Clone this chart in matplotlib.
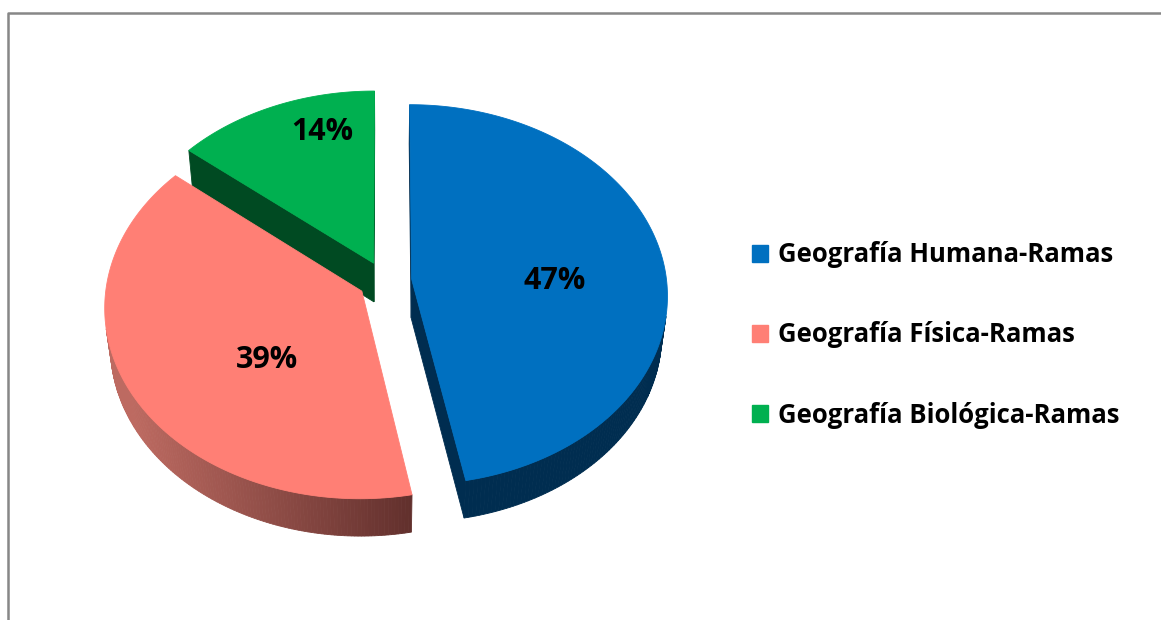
import numpy as np
import matplotlib.pyplot as plt
from matplotlib.patches import Polygon, Patch
from matplotlib.colors import to_rgb

# data
labels = ['Geografía Humana-Ramas', 'Geografía Física-Ramas', 'Geografía Biológica-Ramas']
values = [47, 39, 14]
top_colors = ['#0070C0', '#FF7F75', '#00B050']
side_colors = [('#002D50', '#002D50'), ('#BD6A61', '#5F2E2B'), ('#004A22', '#004A22')]

# 3d look (pixel units)
cx, cy = 385, 281
R = 255
sin_a, cos_a = 0.741, 0.672
dist = 8.25
h = 0.23
explode = 0.105
label_r = [0.56, 0.50, 0.78]
label_shift = [6.5, -14, 9]

cam = dist * np.array([0, sin_a, cos_a])


def proj(X, Y, Z):
    X, Y, Z = np.asarray(X, float), np.asarray(Y, float), np.asarray(Z, float)
    up = Y * cos_a - Z * sin_a
    toward = Y * sin_a + Z * cos_a
    s = dist / (dist - toward)
    return cx + R * X * s, cy - R * up * s


def visible(normal, p):
    return np.dot(normal, cam - p) > 0


fig = plt.figure(figsize=(11.61, 6.2), dpi=100)
ax = fig.add_axes([0, 0, 1, 1])
ax.set_xlim(0, 1161)
ax.set_ylim(620, 0)
ax.axis('off')

# frame
ax.plot([8, 8, 1161], [620, 13, 13], color='#878787', lw=1.8, solid_capstyle='butt')

total = float(sum(values))
bounds = np.concatenate([[0], np.cumsum(values)]) / total * 360

slices = []
for i in range(len(values)):
    t1, t2 = bounds[i], bounds[i + 1]
    mid = np.radians((t1 + t2) / 2)
    ox, oz = explode * np.sin(mid), -explode * np.cos(mid)
    slices.append((oz * cos_a, i, t1, t2, ox, oz))

for depth, i, t1, t2, ox, oz in sorted(slices):
    th = np.radians(np.linspace(t1, t2, 200))
    rx, rz = ox + np.sin(th), oz - np.cos(th)
    faces = []
    # outer wall, split in strips for the shading
    sx_top, sy_top = proj(rx, 0, rz)
    sx_bot, sy_bot = proj(rx, -h, rz)
    c_light, c_dark = np.array(to_rgb(side_colors[i][0])), np.array(to_rgb(side_colors[i][1]))
    for j in range(len(th) - 1):
        tm = (th[j] + th[j + 1]) / 2
        n = np.array([np.sin(tm), 0, -np.cos(tm)])
        p = np.array([ox + np.sin(tm), -h / 2, oz - np.cos(tm)])
        if not visible(n, p):
            continue
        xm = (sx_top[j] + sx_top[j + 1]) / 2
        f = np.clip((xm - (cx - R)) / (420 - (cx - R)), 0, 1)
        col = c_light * (1 - f) + c_dark * f
        quad = [(sx_top[j], sy_top[j]), (sx_top[j + 1], sy_top[j + 1]),
                (sx_bot[j + 1], sy_bot[j + 1]), (sx_bot[j], sy_bot[j])]
        faces.append(Polygon(quad, closed=True, fc=col, ec=col, lw=0.6))
    # radial faces
    for t, sign in ((t1, -1), (t2, 1)):
        tr = np.radians(t)
        n = sign * np.array([np.cos(tr), 0, np.sin(tr)])
        ex, ez = ox + np.sin(tr), oz - np.cos(tr)
        p = np.array([(ox + ex) / 2, -h / 2, (oz + ez) / 2])
        if not visible(n, p):
            continue
        xs, ys = proj([ox, ex, ex, ox], [0, 0, -h, -h], [oz, ez, ez, oz])
        faces.append(Polygon(np.column_stack([xs, ys]), closed=True,
                             fc=side_colors[i][1], ec=side_colors[i][1], lw=0.6))
    for f in faces:
        ax.add_patch(f)
    # top face
    tx, ty = proj(np.concatenate([[ox], rx]), 0, np.concatenate([[oz], rz]))
    ax.add_patch(Polygon(np.column_stack([tx, ty]), closed=True,
                         fc=top_colors[i], ec=top_colors[i], lw=0.6))
    # percent label
    lt = np.radians((t1 + t2) / 2 + label_shift[i])
    lx, ly = proj(ox + label_r[i] * np.sin(lt), 0, oz - label_r[i] * np.cos(lt))
    ax.text(lx, ly, f'{values[i] / total:.0%}', ha='center', va='center',
            fontsize=22, fontweight='bold', family='Open Sans', color='black')

handles = [Patch(fc=c, ec=c) for c in top_colors]
ax.legend(handles, labels, loc='center left', bbox_to_anchor=(752 / 1161, 1 - 335 / 620),
          frameon=False, borderpad=0, borderaxespad=0, handlelength=0.62, handleheight=0.62,
          handletextpad=0.38, labelspacing=2.07,
          prop={'family': 'Open Sans', 'weight': 'bold', 'size': 18.5})

fig.savefig('out.png', dpi=100)
